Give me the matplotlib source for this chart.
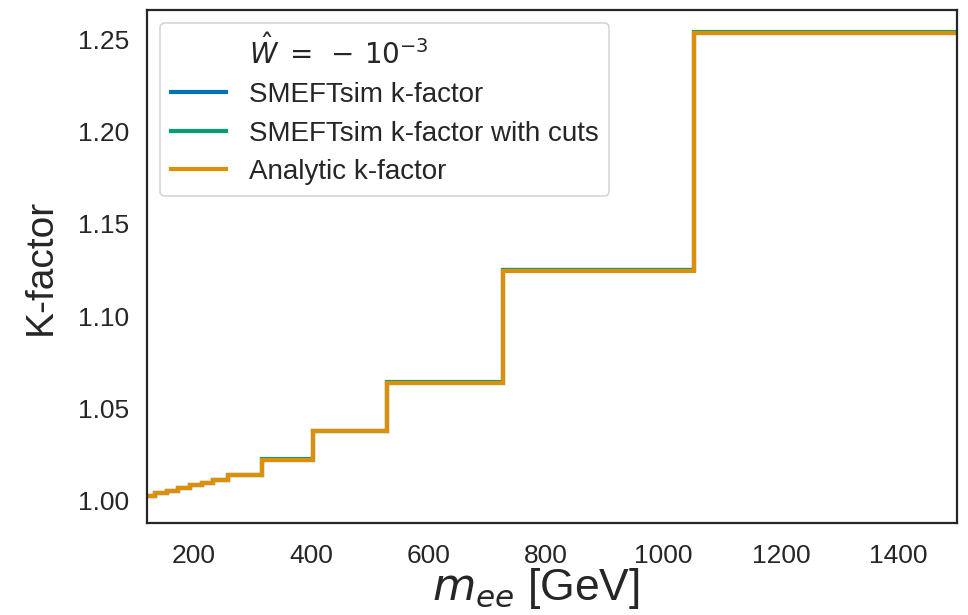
import matplotlib
matplotlib.use("Agg")
import matplotlib.pyplot as plt
from matplotlib.lines import Line2D

# Invariant-mass bin edges [GeV]
mass_edges = [120, 133, 153, 173, 193, 213, 233, 258, 316, 403, 528, 727, 1052, 1500]

# K-factors per bin
smeftsim_k = [1.0026, 1.0040, 1.0053, 1.0067, 1.0084, 1.0098, 1.0113, 1.0140,
              1.0222, 1.0378, 1.0640, 1.1248, 1.2538]
smeftsim_k_cuts = [1.0026, 1.0040, 1.0053, 1.0067, 1.0084, 1.0098, 1.0113, 1.0141,
                   1.0223, 1.0380, 1.0642, 1.1251, 1.2542]
analytic_k = [1.0025, 1.0040, 1.0053, 1.0067, 1.0083, 1.0098, 1.0112, 1.0140,
              1.0221, 1.0377, 1.0638, 1.1246, 1.2536]

series_labels = ["SMEFTsim k-factor", "SMEFTsim k-factor with cuts", "Analytic k-factor"]
wilson_label = r"$\hat{W}\;=\;-\,10^{-3}$"
x_ticks = [200, 400, 600, 800, 1000, 1200, 1400]
y_ticks = [1.00, 1.05, 1.10, 1.15, 1.20, 1.25]

colors = ["#0173b2", "#029e73", "#de8f05"]
ink = "#262626"

plt.rcParams["font.family"] = ["Liberation Sans", "DejaVu Sans"]
plt.rcParams["text.color"] = ink
plt.rcParams["axes.labelcolor"] = ink
plt.rcParams["xtick.color"] = ink
plt.rcParams["ytick.color"] = ink

fig = plt.figure(figsize=(9.68, 6.15), dpi=100)
ax = fig.add_axes([0.152, 0.150, 0.8366, 0.8337])

for vals, col, lab in zip([smeftsim_k, smeftsim_k_cuts, analytic_k], colors, series_labels):
    ax.stairs(vals, mass_edges, color=col, lw=3.0, label=lab, baseline=None)

ax.set_xlim(120, 1500)
ax.set_ylim(0.988, 1.266)
ax.set_xticks(x_ticks)
ax.set_yticks(y_ticks)
ax.set_yticklabels([f"{t:.2f}" for t in y_ticks])
ax.tick_params(axis="both", length=0, labelsize=19)
ax.tick_params(axis="x", pad=15)
ax.tick_params(axis="y", pad=13)

for sp in ax.spines.values():
    sp.set_color(ink)
    sp.set_linewidth(1.6)

ax.set_xlabel(r"$m_{ee}$ [GeV]", fontsize=32, labelpad=0)
ax.xaxis.set_label_coords(0.48, -0.085)
ax.set_ylabel("K-factor", fontsize=28, labelpad=14)

handles = [Line2D([], [], color="none", label=wilson_label)]
handles += [Line2D([], [], color=c, lw=3.0, label=l) for c, l in zip(colors, series_labels)]
leg = ax.legend(handles=handles, loc="upper left", fontsize=20, frameon=True,
                handlelength=2.0, handletextpad=0.8, borderaxespad=0.45,
                labelspacing=0.45)
leg.get_frame().set_edgecolor("#cccccc")
leg.get_frame().set_linewidth(1.2)

fig.savefig("out.png", dpi=100)
